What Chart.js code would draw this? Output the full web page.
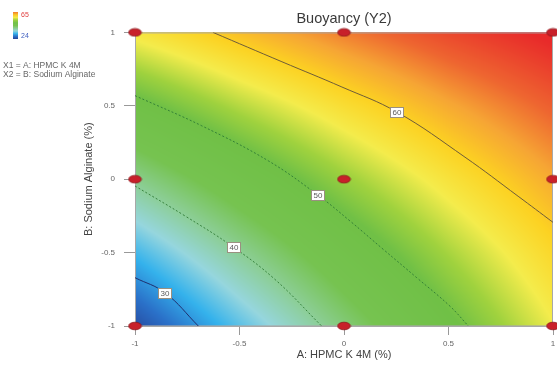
<!DOCTYPE html>
<html>
<head>
<meta charset="utf-8">
<title>Buoyancy (Y2)</title>
<script src="https://cdn.jsdelivr.net/npm/chart.js@4"></script>
<style>
  html, body { margin: 0; padding: 0; background: #fff; }
</style>
</head>
<body>
<canvas id="BuoyancyChart" width="557" height="370"></canvas>
<script>
// factor levels (coded)
var levelsA = [-1, -0.5, 0, 0.5, 1];
var levelsB = [-1, -0.5, 0, 0.5, 1];

// predicted buoyancy, one row per B level (bottom to top), one value per A level
var buoyancyBm1  = [25.1, 33.6, 41.6, 49.2, 56.3];
var buoyancyBm05 = [32.6, 40.0, 46.9, 53.3, 59.3];
var buoyancyB0   = [40.5, 46.7, 52.5, 57.8, 62.7];
var buoyancyB05  = [48.8, 53.9, 58.5, 62.7, 66.5];
var buoyancyB1   = [57.4, 61.4, 64.9, 68.0, 70.6];

// contour lines, [A, B] pairs
var contour30 = [[-1, -0.671], [-0.856, -0.774], [-0.697, -1]];
var contour40 = [[-1, -0.046], [-0.761, -0.25], [-0.537, -0.455], [-0.33, -0.683], [-0.107, -1]];
var contour50 = [[-1, 0.569], [-0.681, 0.364], [-0.362, 0.125], [-0.126, -0.107], [0.029, -0.285],
                 [0.188, -0.478], [0.348, -0.671], [0.507, -0.865], [0.595, -1]];
var contour60 = [[-0.627, 1], [-0.297, 0.8], [-0.01, 0.628], [0.254, 0.457], [0.579, 0.15], [0.833, -0.116], [1, -0.294]];

// where each contour gets its value box
var contourValues = [30, 40, 50, 60];
var labelA = [-0.856, -0.527, -0.126, 0.254];
var labelB = [-0.774, -0.462, -0.107, 0.457];

// design runs
var designA = [-1, -1, -1, 0, 0, 0, 1, 1, 1];
var designB = [-1, 0, 1, -1, 0, 1, -1, 0, 1];

// observed range shown on the colour bar
var responseMin = 24;
var responseMax = 65;

var axisFont = "'Liberation Sans', Arial, sans-serif";
var grid = [buoyancyBm1, buoyancyBm05, buoyancyB0, buoyancyB05, buoyancyB1];

// value -> rgb
var stops = [
  [24, 38, 66, 150],
  [28, 42, 112, 200],
  [32, 52, 178, 236],
  [36, 150, 214, 222],
  [40, 140, 206, 150],
  [44, 118, 195, 80],
  [50, 112, 192, 70],
  [53, 160, 210, 62],
  [56.5, 244, 236, 76],
  [60, 252, 210, 34],
  [63, 246, 166, 52],
  [66, 238, 102, 48],
  [70, 232, 42, 42]
];

function colourFor(v) {
  if (v <= stops[0][0]) return stops[0].slice(1);
  for (var i = 1; i < stops.length; i++) {
    if (v <= stops[i][0]) {
      var s0 = stops[i - 1], s1 = stops[i];
      var t = (v - s0[0]) / (s1[0] - s0[0]);
      return [s0[1] + t * (s1[1] - s0[1]), s0[2] + t * (s1[2] - s0[2]), s0[3] + t * (s1[3] - s0[3])];
    }
  }
  return stops[stops.length - 1].slice(1);
}

// bilinear lookup in the grid
function surfaceAt(a, b) {
  var fi = (a - levelsA[0]) / (levelsA[1] - levelsA[0]);
  var fj = (b - levelsB[0]) / (levelsB[1] - levelsB[0]);
  var i = Math.min(Math.max(Math.floor(fi), 0), levelsA.length - 2);
  var j = Math.min(Math.max(Math.floor(fj), 0), levelsB.length - 2);
  var tx = fi - i, ty = fj - j;
  var v00 = grid[j][i], v10 = grid[j][i + 1], v01 = grid[j + 1][i], v11 = grid[j + 1][i + 1];
  return (v00 * (1 - tx) + v10 * tx) * (1 - ty) + (v01 * (1 - tx) + v11 * tx) * ty;
}

function toPoints(pairs) {
  return pairs.map(function (p) { return { x: p[0], y: p[1] }; });
}

// red ellipse used for the design points
var dot = document.createElement('canvas');
dot.width = 15; dot.height = 10;
(function () {
  var c = dot.getContext('2d');
  c.beginPath();
  c.ellipse(7.5, 5, 6.4, 3.8, 0, 0, Math.PI * 2);
  c.fillStyle = '#c8202a';
  c.fill();
  c.lineWidth = 0.8;
  c.strokeStyle = '#8c1419';
  c.stroke();
})();

var surfacePlugin = {
  id: 'surface',
  beforeDatasetsDraw: function (chart) {
    var area = chart.chartArea, sx = chart.scales.x, sy = chart.scales.y;
    var w = Math.round(area.right - area.left), h = Math.round(area.bottom - area.top);
    var off = document.createElement('canvas');
    off.width = w; off.height = h;
    var octx = off.getContext('2d');
    var img = octx.createImageData(w, h);
    for (var j = 0; j < h; j++) {
      var b = sy.getValueForPixel(area.top + j + 0.5);
      for (var i = 0; i < w; i++) {
        var a = sx.getValueForPixel(area.left + i + 0.5);
        var c = colourFor(surfaceAt(a, b));
        var k = (j * w + i) * 4;
        img.data[k] = c[0];
        img.data[k + 1] = c[1];
        img.data[k + 2] = c[2];
        img.data[k + 3] = 255;
      }
    }
    octx.putImageData(img, 0, 0);
    var ctx = chart.ctx;
    ctx.drawImage(off, area.left, area.top);
    ctx.save();
    ctx.strokeStyle = '#a8a8a8';
    ctx.lineWidth = 1;
    ctx.strokeRect(area.left + 0.5, area.top + 0.5, w - 1, h - 1);
    ctx.restore();
  },
  afterDatasetsDraw: function (chart) {
    // value boxes on the contours
    var ctx = chart.ctx, sx = chart.scales.x, sy = chart.scales.y;
    ctx.save();
    ctx.font = '8px ' + axisFont;
    ctx.textAlign = 'center';
    ctx.textBaseline = 'middle';
    for (var i = 0; i < contourValues.length; i++) {
      var px = Math.round(sx.getPixelForValue(labelA[i]));
      var py = Math.round(sy.getPixelForValue(labelB[i]));
      ctx.fillStyle = '#ffffff';
      ctx.fillRect(px - 7, py - 5, 14, 11);
      ctx.strokeStyle = '#9a9080';
      ctx.lineWidth = 1;
      ctx.strokeRect(px - 7 + 0.5, py - 5 + 0.5, 13, 10);
      ctx.fillStyle = '#5a5a5a';
      ctx.fillText(String(contourValues[i]), px, py + 0.5);
    }
    ctx.restore();
  },
  afterDraw: function (chart) {
    // colour bar and factor key in the corner
    var ctx = chart.ctx;
    ctx.save();
    var g = ctx.createLinearGradient(0, 12, 0, 39);
    for (var s = 0; s <= 10; s++) {
      var v = responseMax - (responseMax - responseMin) * s / 10;
      var c = colourFor(v);
      g.addColorStop(s / 10, 'rgb(' + Math.round(c[0]) + ',' + Math.round(c[1]) + ',' + Math.round(c[2]) + ')');
    }
    ctx.fillStyle = g;
    ctx.fillRect(13, 12, 5, 27);
    ctx.font = '7px ' + axisFont;
    ctx.textBaseline = 'middle';
    ctx.fillStyle = '#e04040';
    ctx.fillText(String(responseMax), 21, 15);
    ctx.fillStyle = '#4060c0';
    ctx.fillText(String(responseMin), 21, 36);
    ctx.font = '8.5px ' + axisFont;
    ctx.fillStyle = '#666666';
    ctx.fillText('X1 = A: HPMC K 4M', 3, 66);
    ctx.fillText('X2 = B: Sodium Alginate', 3, 75);
    ctx.restore();
  }
};

function contourSet(pairs, colour, dash, width) {
  return {
    type: 'scatter',
    data: toPoints(pairs),
    showLine: true,
    borderColor: colour,
    borderWidth: width,
    borderDash: dash,
    pointRadius: 0,
    tension: 0.4,
    order: 2
  };
}

function plainTick(value) {
  return String(value);
}

var ctx = document.getElementById('BuoyancyChart').getContext('2d');
var chart = new Chart(ctx, {
  type: 'scatter',
  data: {
    datasets: [
      {
        label: 'Design points',
        data: designA.map(function (a, i) { return { x: a, y: designB[i] }; }),
        pointStyle: dot,
        pointRadius: 6,
        clip: false,
        order: 0
      },
      contourSet(contour30, '#1f2f6e', [], 1),
      contourSet(contour40, '#2f7a34', [2, 2], 0.9),
      contourSet(contour50, '#2f7a34', [2, 2], 0.9),
      contourSet(contour60, '#6e5c3a', [], 1)
    ]
  },
  options: {
    responsive: false,
    animation: false,
    devicePixelRatio: 1,
    layout: { autoPadding: false, padding: { left: 78, right: 4, top: 0, bottom: 0 } },
    plugins: {
      legend: { display: false },
      tooltip: { enabled: false },
      title: {
        display: true,
        text: 'Buoyancy (Y2)',
        fullSize: false,
        color: '#3a3a3a',
        font: { family: axisFont, size: 14.5, weight: 'normal' },
        padding: { top: 10, bottom: 5 }
      }
    },
    scales: {
      x: {
        type: 'linear',
        min: -1,
        max: 1,
        afterFit: function (scale) {
          scale.height = 44;
          // end labels may overhang; keep the plot full width
          scale.paddingLeft = 0;
          scale.paddingRight = 0;
        },
        ticks: { stepSize: 0.5, padding: 4, color: '#666', font: { family: axisFont, size: 8 }, callback: plainTick },
        grid: { drawOnChartArea: false, tickLength: 9, color: '#999' },
        border: { color: '#a8a8a8' },
        title: {
          display: true,
          text: 'A: HPMC K 4M (%)',
          color: '#444',
          font: { family: axisFont, size: 11 },
          padding: { top: 0, bottom: 8 }
        }
      },
      y: {
        type: 'linear',
        min: -1,
        max: 1,
        afterFit: function (scale) { scale.width = 57; },
        ticks: { stepSize: 0.5, padding: 9, color: '#666', font: { family: axisFont, size: 8 }, callback: plainTick },
        grid: { drawOnChartArea: false, tickLength: 11, color: '#999' },
        border: { color: '#a8a8a8' },
        title: {
          display: true,
          text: 'B: Sodium Alginate (%)',
          color: '#444',
          font: { family: axisFont, size: 11 },
          padding: { top: 4, bottom: 0 }
        }
      }
    }
  },
  plugins: [surfacePlugin]
});
</script>
</body>
</html>
